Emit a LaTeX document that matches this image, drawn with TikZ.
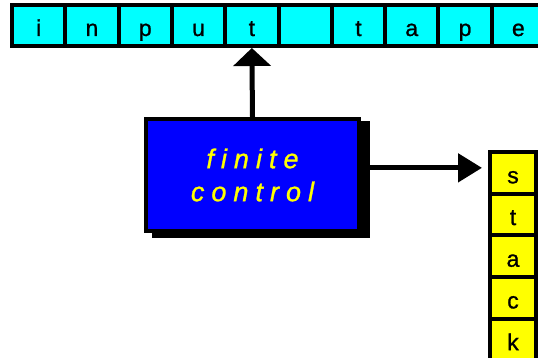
\documentclass[tikz,border=0pt]{standalone}
\usepackage{fontspec}
\setmainfont{Liberation Sans}
\newfontfamily\cellfont[FakeBold=1]{Liberation Sans}
\newfontfamily\spacedfont[LetterSpace=26,FakeBold=1]{Liberation Sans}
\usetikzlibrary{arrows.meta}
\definecolor{tapecyan}{RGB}{0,255,255}
\definecolor{ctrlblue}{RGB}{0,0,255}
\definecolor{stackyellow}{RGB}{255,255,0}
\begin{document}
\begin{tikzpicture}[x=1pt,y=-1pt,
  tapecell/.style={draw=black,line width=4pt,fill=tapecyan,minimum width=53.3pt,minimum height=41pt,inner sep=0pt,text height=21pt,text depth=0pt,font=\cellfont\fontsize{23}{27}\selectfont},
  stackcell/.style={draw=black,line width=4pt,fill=stackyellow,minimum width=46pt,minimum height=41.7pt,inner sep=0pt,text height=21pt,text depth=0pt,font=\cellfont\fontsize{23}{27}\selectfont},
  ctrlbox/.style={draw=black,line width=4pt,fill=ctrlblue,minimum width=213pt,minimum height=112pt,inner sep=0pt,align=center,text=stackyellow,font=\spacedfont\itshape\fontsize{27}{33}\selectfont},
  thickarrow/.style={line width=5pt}]
\useasboundingbox (0,0) rectangle (538,358);
\clip (0,0) rectangle (538,358);
% input tape
\foreach \c [count=\k] in {i,n,p,u,t,{},t,a,p,e}{
  \node[tapecell] (t\k) at ({12+53.3*(\k-0.5)},25.5) {\c};
}
% stack
\foreach \c [count=\k] in {s,t,a,c,k}{
  \node[stackcell] (s\k) at (513,{152+41.7*(\k-0.5)}) {\c};
}
% finite control with its shadow
\coordinate (fcpos) at (252.5,175);
\node[ctrlbox] (fcshape) at (fcpos) {};
\fill[black] ([shift={(8,4)}]fcshape.north west) rectangle ([shift={(9,5)}]fcshape.south east);
\node[ctrlbox] (fc) at (fcpos) {finite\\control};
% connectors
\draw[thickarrow,-{Triangle[length=18pt,width=37pt]}] (fc.north) -- (t5.south);
\coordinate (stin) at ([xshift=-6pt,yshift=5pt]s1.west);
\draw[thickarrow,-{Triangle[length=24pt,width=28pt]}] (stin -| fc.east) -- (stin);
\end{tikzpicture}
\end{document}
